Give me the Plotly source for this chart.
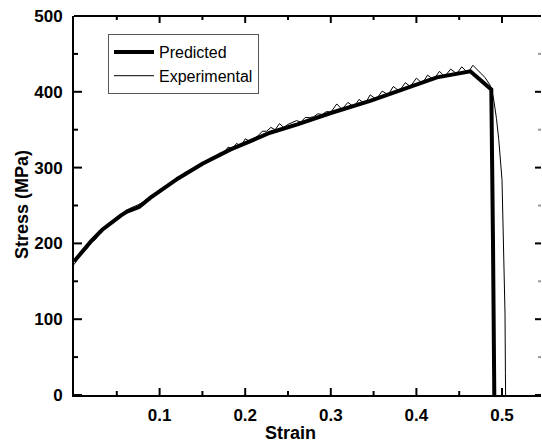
import plotly.graph_objects as go

# Predicted curve (strain, stress MPa)
pred_strain = [0.000, 0.010, 0.020, 0.033, 0.045, 0.055, 0.062, 0.070, 0.076, 0.089, 0.105,
               0.122, 0.150, 0.183, 0.202, 0.229, 0.261, 0.300, 0.346, 0.393, 0.424,
               0.463, 0.4875, 0.4895, 0.491]
pred_stress = [176, 190, 203, 218, 229, 237, 242, 245, 248, 260, 272,
               286, 305, 324, 333, 346, 357, 372, 388, 407, 419,
               427, 403, 200, 0]

# Experimental curve (strain, stress MPa)
exp_strain = [0.000, 0.005, 0.010, 0.015, 0.020, 0.025, 0.030, 0.035, 0.040, 0.045,
              0.050, 0.055, 0.060, 0.065, 0.070, 0.075, 0.080, 0.085, 0.090, 0.095,
              0.100, 0.105, 0.110, 0.115, 0.120, 0.125, 0.130, 0.135, 0.140, 0.145,
              0.150, 0.155, 0.160, 0.165, 0.170, 0.175, 0.180, 0.185, 0.190, 0.195,
              0.200, 0.205, 0.210, 0.215, 0.220, 0.225, 0.230, 0.235, 0.240, 0.245,
              0.250, 0.255, 0.260, 0.265, 0.270, 0.275, 0.280, 0.285, 0.290, 0.295,
              0.300, 0.307, 0.313, 0.320, 0.327, 0.333, 0.340, 0.346, 0.353, 0.360,
              0.367, 0.373, 0.380, 0.387, 0.393, 0.400, 0.407, 0.413, 0.420, 0.427,
              0.433, 0.440, 0.447, 0.453, 0.460, 0.466, 0.472, 0.480, 0.486, 0.490,
              0.4935, 0.4962, 0.500, 0.502, 0.5035, 0.504, 0.5042]
exp_stress = [172, 181, 188, 193, 201, 205, 213, 219, 226, 229,
              235, 237, 243, 246, 248, 251, 254, 259, 263, 266,
              271, 273, 278, 280, 287, 288, 294, 294, 300, 301,
              307, 306, 313, 313, 319, 319, 327, 325, 332, 328,
              338, 335, 339, 342, 348, 348, 353, 350, 358, 353,
              357, 360, 362, 360, 366, 366, 367, 371, 370, 374,
              373, 384, 377, 386, 380, 390, 384, 396, 390, 401,
              396, 407, 401, 412, 407, 418, 411, 422, 416, 427,
              420, 430, 424, 433, 425, 435, 428, 419, 409, 392,
              365, 337, 284, 196, 108, 30, 0]

x_ticks = [0.1, 0.2, 0.3, 0.4, 0.5]
x_minor_ticks = [0.05, 0.15, 0.25, 0.35, 0.45]
x_tick_labels = ["<b>0.1</b>", "<b>0.2</b>", "<b>0.3</b>", "<b>0.4</b>", "<b>0.5</b>"]
y_ticks = [0, 100, 200, 300, 400, 500]
y_minor_ticks = [50, 150, 250, 350, 450]
y_tick_labels = ["<b>0</b>", "<b>100</b>", "<b>200</b>", "<b>300</b>", "<b>400</b>", "<b>500</b>"]
x_title = "<b>Strain</b>"
y_title = "<b>Stress (MPa)</b>"

FONT = "Liberation Sans, Arial, sans-serif"

fig = go.Figure()
fig.add_trace(go.Scatter(x=exp_strain, y=exp_stress, mode="lines", name="Experimental",
                         line=dict(color="black", width=1)))
fig.add_trace(go.Scatter(x=pred_strain, y=pred_stress, mode="lines", name="Predicted",
                         line=dict(color="black", width=4)))

W, H = 542, 444
L, R, T, B = 74, 1, 16, 49
PW, PH = W - L - R, H - T - B
xmax = PW / 856.0

# axis decorations (frame top line and inward ticks), placed through the axes' scales
shapes = [dict(type="line", xref="paper", yref="paper", x0=0, x1=1, y0=1, y1=1,
               line=dict(color="black", width=2), layer="above")]
for v, ln in [(t, 7) for t in x_ticks] + [(t, 4) for t in x_minor_ticks]:
    shapes.append(dict(type="line", xref="x", yref="paper", x0=v, x1=v, y0=0, y1=ln / PH,
                       line=dict(color="black", width=2), layer="above"))
    shapes.append(dict(type="line", xref="x", yref="paper", x0=v, x1=v, y0=1, y1=1 - ln / PH,
                       line=dict(color="black", width=2), layer="above"))
for v, ln in [(t, 8) for t in y_ticks] + [(t, 4) for t in y_minor_ticks]:
    shapes.append(dict(type="line", xref="paper", yref="y", x0=0, x1=ln / PW, y0=v, y1=v,
                       line=dict(color="black", width=2), layer="above"))
for v, ln, c in [(t, 6, "black") for t in y_ticks] + [(t, 3, "#999") for t in y_minor_ticks]:
    shapes.append(dict(type="line", xref="paper", yref="y", x0=1, x1=1 - ln / PW, y0=v, y1=v,
                       line=dict(color=c, width=2), layer="above"))

fig.update_layout(
    width=W, height=H,
    margin=dict(l=L, r=R, t=T, b=B, autoexpand=False),
    plot_bgcolor="white",
    font=dict(family=FONT, color="black"),
    showlegend=True,
    legend=dict(x=(108 - L) / PW, y=(H - B - 34) / PH,
                xanchor="left", yanchor="top", traceorder="reversed",
                bgcolor="white", bordercolor="#555", borderwidth=1,
                font=dict(size=16, family=FONT, color="black"), itemwidth=40),
    xaxis=dict(range=[0, xmax], tickmode="array", tickvals=x_ticks, ticktext=x_tick_labels,
               automargin=False, showgrid=False, zeroline=False,
               showline=True, linecolor="black", linewidth=2, ticks="",
               ticklabelstandoff=4,
               tickfont=dict(size=17, family=FONT, color="black")),
    yaxis=dict(range=[0, 500], tickmode="array", tickvals=y_ticks, ticktext=y_tick_labels,
               automargin=False, showgrid=False, zeroline=False,
               showline=True, linecolor="black", linewidth=2, ticks="",
               ticklabelstandoff=6,
               tickfont=dict(size=17, family=FONT, color="black")),
    shapes=shapes,
    annotations=[
        dict(text=x_title, xref="paper", yref="paper", x=(290 - L) / PW, y=(395 - 433) / PH,
             xanchor="center", yanchor="middle", showarrow=False,
             font=dict(size=18, family=FONT, color="black")),
        dict(text=y_title, xref="paper", yref="paper", x=(22 - L) / PW, y=(395 - 205) / PH,
             xanchor="center", yanchor="middle", showarrow=False, textangle=-90,
             font=dict(size=18, family=FONT, color="black")),
    ],
)

fig.write_html("out.html")
